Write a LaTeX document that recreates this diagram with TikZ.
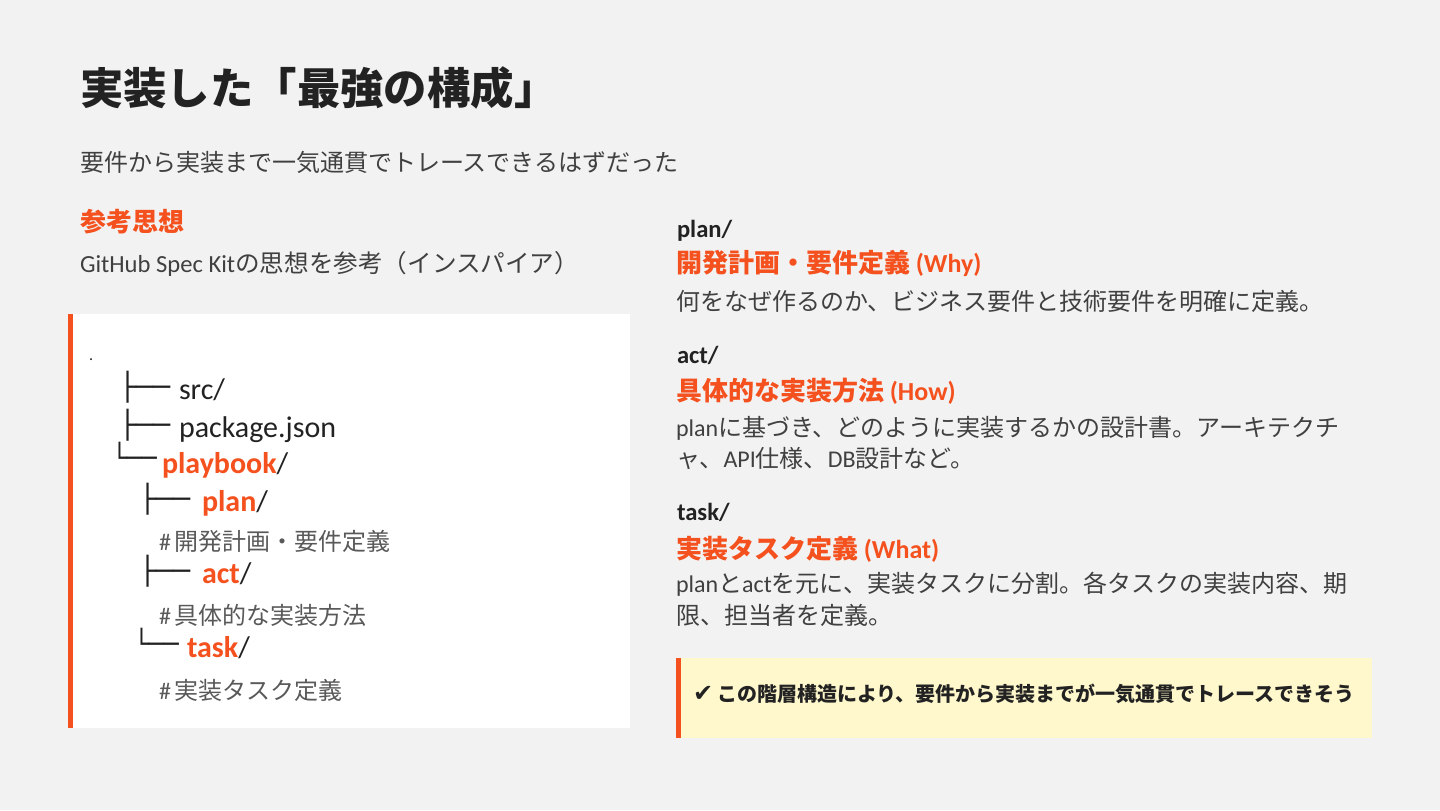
\documentclass[tikz,border=0pt]{standalone}
\usepackage{fontspec}
\setmainfont{Carlito}
\newfontfamily\jp{Noto Sans CJK JP}
\newfontfamily\dv{DejaVu Sans}
\newfontfamily\dvw[FakeStretch=1.05]{DejaVu Sans}
\newfontfamily\dvn[FakeStretch=0.92]{DejaVu Sans}
\definecolor{bg}{HTML}{F2F2F2}
\definecolor{accent}{HTML}{F4511E}
\definecolor{ink}{HTML}{222222}
\definecolor{body}{HTML}{404040}
\definecolor{cmt}{HTML}{595959}
\definecolor{note}{HTML}{FFF8CC}
\newcommand\fs[1]{\fontsize{#1}{#1}\selectfont}
\newcommand\J[1]{{\jp #1}}
\tikzset{
  txt/.style={anchor=base west, inner sep=0pt, outer sep=0pt},
  boxch/.style={txt, font=\dvw\fs{13.5pt}, text=ink},
  boxend/.style={txt, font=\dvn\fs{13.5pt}, text=ink},
  codetxt/.style={txt, font=\fs{15pt}, text=ink},
  cmtxt/.style={txt, font=\fs{12pt}, text=cmt},
  hdtxt/.style={txt, font=\bfseries\fs{12.3pt}, text=ink},
  subtxt/.style={txt, font=\bfseries\fs{13pt}, text=accent},
  bdtxt/.style={txt, font=\fs{12pt}, text=body},
}
\begin{document}
\begin{tikzpicture}[x=0.5pt,y=-0.5pt]
\fill[bg] (0,0) rectangle (1440,810);
\useasboundingbox (0,0) rectangle (1440,810);
% title
\node[txt, font=\jp\bfseries\fs{21.7pt}, text=ink] (title) at (80,104) {実装した「最強の構成」};
\node[txt, font=\jp\fs{12pt}, text=body] (subtitle) at (80,171) {要件から実装まで一気通貫でトレースできるはずだった};
\node[txt, font=\jp\bfseries\fs{13pt}, text=accent] (refh) at (80,231) {参考思想};
\node[txt, font=\fs{12.3pt}, text=body] (reft) at (80,272) {GitHub Spec Kit\J{の思想を参考（インスパイア）}};
% code box
\fill[white] (68,314) rectangle (630,728);
\fill[accent] (68,314) rectangle (73,728);
\node[txt, font=\fs{8pt}, text=ink] (dot) at (89,360) {.};
\node[boxch] (b1) at (119,396) {├──};
\node[codetxt] (l1) at (179,399) {src/};
\node[boxch] (b2) at (119,434) {├──};
\node[codetxt] (l2) at (179,437) {package.json};
\node[boxend] (b3) at (112,467) {└──};
\node[codetxt] (l3) at (162,473) {\textcolor{accent}{\bfseries playbook}/};
\node[boxch] (b4) at (139,508) {├──};
\node[codetxt] (l4) at (202,511) {\textcolor{accent}{\bfseries plan}/};
\node[cmtxt] (c4) at (159,550) {\#\,\J{開発計画・要件定義}};
\node[boxch] (b5) at (139,580) {├──};
\node[codetxt] (l5) at (202,583) {\textcolor{accent}{\bfseries act}/};
\node[cmtxt] (c5) at (159,624) {\#\,\J{具体的な実装方法}};
\node[boxend] (b6) at (134,653) {└──};
\node[codetxt] (l6) at (187,657) {\textcolor{accent}{\bfseries task}/};
\node[cmtxt] (c6) at (159,699) {\#\,\J{実装タスク定義}};
% right column
\node[hdtxt] (h1) at (677,237) {plan/};
\node[subtxt] (s1) at (676,272) {\J{開発計画・要件定義} (Why)};
\node[bdtxt] (d1) at (676,310) {\J{何をなぜ作るのか、ビジネス要件と技術要件を明確に定義。}};
\node[hdtxt] (h2) at (677,363) {act/};
\node[subtxt] (s2) at (676,400) {\J{具体的な実装方法} (How)};
\node[bdtxt] (d2a) at (676,436) {plan\J{に基づき、どのように実装するかの設計書。アーキテクチ}};
\node[bdtxt] (d2b) at (676,467) {\J{ャ、}API\J{仕様、}DB\J{設計など。}};
\node[hdtxt] (h3) at (677,520) {task/};
\node[subtxt] (s3) at (676,558) {\J{実装タスク定義} (What)};
\node[bdtxt] (d3a) at (676,592) {plan\J{と}act\J{を元に、実装タスクに分割。各タスクの実装内容、期}};
\node[bdtxt] (d3b) at (676,624) {\J{限、担当者を定義。}};
% callout
\fill[note] (676,658) rectangle (1372,738);
\fill[accent] (676,658) rectangle (681,738);
\node[txt, font=\bfseries\fs{10pt}, text=ink] (callout) at (693,701) {{\dv\fs{12pt}✔}\hspace{2pt}\J{この階層構造により、要件から実装までが一気通貫でトレースできそう}};
\end{tikzpicture}
\end{document}
